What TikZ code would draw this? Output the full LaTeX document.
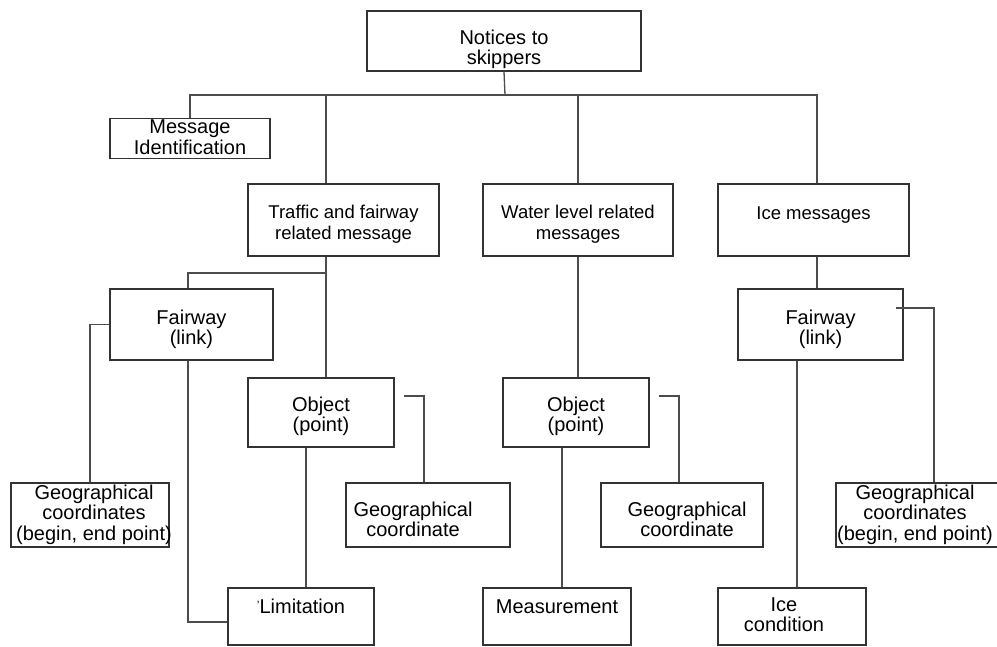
\documentclass[tikz,border=0pt]{standalone}
\usepackage{fontspec}
\setmainfont{Liberation Sans}
\newcommand{\shifttext}[3]{\raisebox{#2}[\height][\depth]{\hspace*{#1}\begin{tabular}{@{}c@{}}#3\end{tabular}\hspace*{-#1}}}

\begin{document}
\begin{tikzpicture}[x=1pt,y=-1pt,box/.style={draw=black!80, line width=1.3pt, inner sep=0pt, align=center, font=\fontsize{20}{19.5}\selectfont},catbox/.style={box, font=\fontsize{18.5}{21}\selectfont},link/.style={draw=black!70, line width=1.3pt}]
\useasboundingbox (0,0) rectangle (997,646);
\node[box, minimum width=274pt, minimum height=60pt] (notices) at (504,41) {\shifttext{0pt}{-9pt}{Notices to\\skippers}};
\node[box, minimum width=160pt, minimum height=39pt] (msgid) at (190,138.5) {\shifttext{0pt}{-1.5pt}{Message\\Identification}};
\node[catbox, minimum width=191pt, minimum height=72pt] (traffic) at (343.5,220) {\shifttext{0pt}{-4.5pt}{Traffic and fairway\\related message}};
\node[catbox, minimum width=190pt, minimum height=72pt] (water) at (578,220) {\shifttext{0pt}{-4.5pt}{Water level related\\messages}};
\node[catbox, minimum width=191pt, minimum height=72pt] (icemsg) at (813.5,220) {\shifttext{0pt}{5pt}{Ice messages}};
\node[box, minimum width=163pt, minimum height=71pt] (fairL) at (191.5,324.5) {\shifttext{0pt}{-6pt}{Fairway\\(link)}};
\node[box, minimum width=146pt, minimum height=69pt] (objL) at (321,412.5) {\shifttext{0pt}{-4.5pt}{Object\\(point)}};
\node[box, minimum width=158pt, minimum height=64pt] (geoL) at (90,515) {\shifttext{4pt}{-0.5pt}{Geographical\\coordinates\\(begin, end point)}};
\node[box, minimum width=164pt, minimum height=64pt] (geoCL) at (428,515) {\shifttext{-15pt}{-7.5pt}{Geographical\\coordinate}};
\node[box, minimum width=146pt, minimum height=57pt] (limit) at (301,616.5) {\shifttext{0pt}{7pt}{{\fontsize{12}{12}\selectfont\raisebox{4pt}{'}}Limitation}};
\node[box, minimum width=146pt, minimum height=69pt] (objM) at (576,412.5) {\shifttext{0pt}{-4.5pt}{Object\\(point)}};
\node[box, minimum width=162pt, minimum height=64pt] (geoCM) at (682,515) {\shifttext{5pt}{-7.5pt}{Geographical\\coordinate}};
\node[box, minimum width=148pt, minimum height=57pt] (meas) at (557,616.5) {\shifttext{0pt}{7pt}{Measurement}};
\node[box, minimum width=165pt, minimum height=71pt] (fairR) at (820.5,324.5) {\shifttext{0pt}{-6pt}{Fairway\\(link)}};
\node[box, minimum width=164pt, minimum height=64pt] (geoR) at (918,515) {\shifttext{-3pt}{-0.5pt}{Geographical\\coordinates\\(begin, end point)}};
\node[box, minimum width=148pt, minimum height=57pt] (icecond) at (792,616.5) {\shifttext{-8pt}{-1pt}{Ice\\condition}};
\coordinate (bus) at (505,95); \coordinate (jT) at (326,273);
\draw[link] (notices.south) -- (bus);
\draw[link] (msgid.north) |- (bus) -| ([xshift=3.5pt]icemsg.north);
\draw[link] (jT |- bus) -- (jT |- traffic.north);
\draw[link] (water.north) -- (water.north |- bus);
\draw[link] (jT |- traffic.south) -- (jT |- objL.north);
\draw[link] (jT) -| ([xshift=-3.5pt]fairL.north);
\draw[link] (fairL.west) -| (geoL.north);
\draw[link] ([xshift=-3.5pt]fairL.south) |- ([yshift=-5.5pt]limit.west);
\draw[link] ([xshift=-15pt]objL.south) -- ([xshift=-15pt]objL.south |- limit.north);
\draw[link] ([xshift=9pt,yshift=16.5pt]objL.east) -| ([xshift=-4pt]geoCL.north);
\draw[link] (water.south) -- (water.south |- objM.north);
\draw[link] ([xshift=-14pt]objM.south) -- ([xshift=-14pt]objM.south |- meas.north);
\draw[link] ([xshift=9pt,yshift=16.5pt]objM.east) -| ([xshift=-3pt]geoCM.north);
\draw[link] ([xshift=3.5pt]icemsg.south) -- ([xshift=3.5pt]icemsg.south |- fairR.north);
\draw[link] ([xshift=-8pt,yshift=16.5pt]fairR.east) -| ([xshift=16pt]geoR.north);
\draw[link] ([xshift=-23.5pt]fairR.south) -- ([xshift=-23.5pt]fairR.south |- icecond.north);
\end{tikzpicture}
\end{document}
